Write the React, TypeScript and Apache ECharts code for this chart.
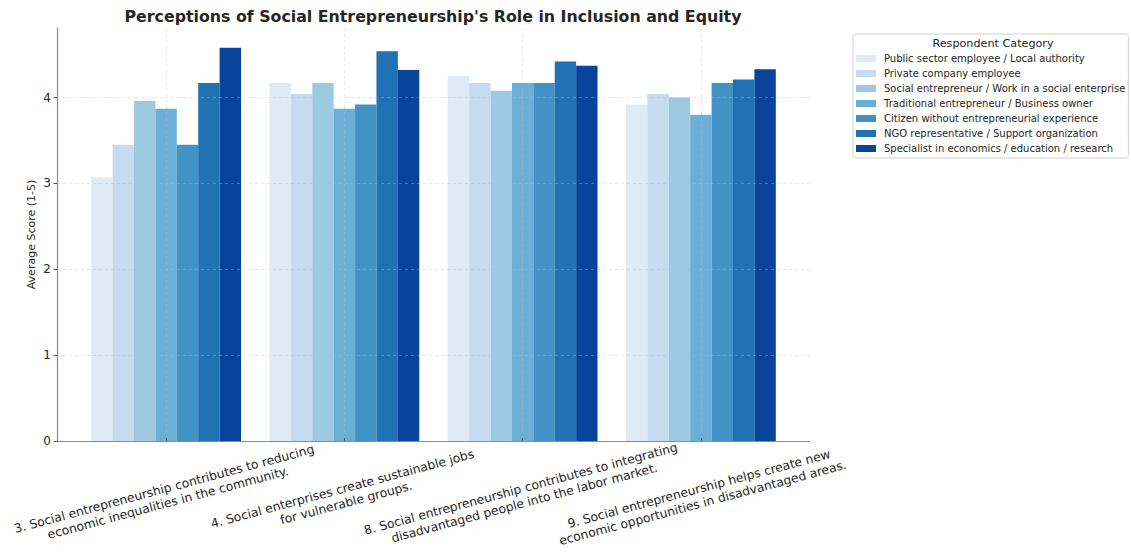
import React, { useEffect, useRef } from "react";
import * as echarts from "echarts";

const categories: string[] = [
  "3. Social entrepreneurship contributes to reducing\neconomic inequalities in the community.",
  "4. Social enterprises create sustainable jobs\nfor vulnerable groups.",
  "8. Social entrepreneurship contributes to integrating\ndisadvantaged people into the labor market.",
  "9. Social entrepreneurship helps create new\neconomic opportunities in disadvantaged areas.",
];

const respondentGroups: string[] = [
  "Public sector employee / Local authority",
  "Private company employee",
  "Social entrepreneur / Work in a social enterprise",
  "Traditional entrepreneur / Business owner",
  "Citizen without entrepreneurial experience",
  "NGO representative / Support organization",
  "Specialist in economics / education / research",
];

const publicSector: number[] = [3.07, 4.17, 4.25, 3.92];
const privateCompany: number[] = [3.45, 4.04, 4.17, 4.04];
const socialEntrepreneur: number[] = [3.96, 4.17, 4.08, 4.0];
const traditionalEntrepreneur: number[] = [3.87, 3.87, 4.17, 3.8];
const citizen: number[] = [3.45, 3.92, 4.17, 4.17];
const ngo: number[] = [4.17, 4.54, 4.42, 4.21];
const specialist: number[] = [4.58, 4.32, 4.37, 4.33];

const seriesValues: number[][] = [
  publicSector,
  privateCompany,
  socialEntrepreneur,
  traditionalEntrepreneur,
  citizen,
  ngo,
  specialist,
];

const yTicks: number[] = [0, 1, 2, 3, 4];
const categoryPositions: number[] = [0, 1, 2, 3];

const colors = ["#deebf7", "#c6dbef", "#9ecae1", "#6baed6", "#4292c6", "#2171b5", "#08459a"];

const FONT = "DejaVu Sans";
const GRID_COLOR = "rgba(185,185,185,0.45)";

export default function App() {
  const ref = useRef<HTMLDivElement>(null);
  useEffect(() => {
    if (!ref.current) return;
    const chart = echarts.init(ref.current, null, { renderer: "svg" });
    const series = respondentGroups.map((name, i) => ({
      name,
      type: "bar",
      z: 2,
      barWidth: 21.4,
      barGap: "0%",
      itemStyle: { color: colors[i] },
      data: categoryPositions.map((x, j) => [x, seriesValues[i][j]]),
    }));
    chart.setOption({
      animation: false,
      textStyle: { fontFamily: FONT },
      title: [
        {
          text: "Perceptions of Social Entrepreneurship's Role in Inclusion and Equity",
          left: 433,
          top: 8,
          padding: 0,
          textAlign: "center",
          textStyle: { fontFamily: FONT, fontSize: 15.8, fontWeight: "bold", color: "#262626" },
        },
        {
          text: "Respondent Category",
          left: 993,
          top: 38,
          padding: 0,
          textAlign: "center",
          textStyle: { fontFamily: FONT, fontSize: 11.2, fontWeight: "normal", color: "#262626" },
        },
      ],
      legend: {
        orient: "vertical",
        left: 853,
        top: 34,
        padding: [19, 3, 4, 3],
        itemWidth: 20,
        itemHeight: 7,
        itemGap: 4,
        icon: "rect",
        borderColor: "#d0d0d0",
        borderWidth: 1,
        borderRadius: 3,
        data: respondentGroups,
        textStyle: { fontFamily: FONT, fontSize: 10, color: "#262626", lineHeight: 11, padding: [0, 0, 0, 3] },
      },
      grid: {
        left: 57,
        right: 321,
        top: 28,
        bottom: 111,
        outerBoundsMode: "none",
        containLabel: false,
      },
      xAxis: {
        type: "value",
        z: 3,
        min: -0.612,
        max: 3.612,
        axisLine: { show: true, onZero: false, lineStyle: { color: "#8c8c8c", width: 1.2 } },
        axisTick: {
          show: true,
          inside: true,
          length: 3,
          customValues: categoryPositions,
          lineStyle: { color: "#555" },
        },
        splitLine: {
          show: true,
          lineStyle: { color: GRID_COLOR, type: [3, 3], width: 0.8 },
        },
        axisLabel: {
          customValues: categoryPositions,
          formatter: (v: number) => categories[Math.round(v)] ?? "",
          rotate: 15,
          align: "center",
          verticalAlign: "middle",
          margin: 55,
          fontFamily: FONT,
          fontSize: 12.3,
          lineHeight: 14.5,
          color: "#262626",
        },
      },
      yAxis: {
        type: "value",
        z: 3,
        min: 0,
        max: 4.81,
        interval: 1,
        name: "Average Score (1-5)",
        nameLocation: "middle",
        nameGap: 20,
        nameMoveOverlap: false,
        nameTextStyle: { fontFamily: FONT, fontSize: 11, color: "#262626" },
        axisLine: { show: true, onZero: false, lineStyle: { color: "#8c8c8c", width: 1.2 } },
        axisTick: { show: true, length: 3.5, customValues: yTicks, lineStyle: { color: "#555" } },
        splitLine: {
          show: true,
          lineStyle: { color: GRID_COLOR, type: [3, 3], width: 0.8 },
        },
        axisLabel: {
          customValues: yTicks,
          margin: 6,
          fontFamily: FONT,
          fontSize: 12,
          color: "#262626",
        },
      },
      series,
    });
    return () => chart.dispose();
  }, []);
  return <div ref={ref} style={{ width: 1131, height: 552, position: "absolute", left: 0, top: 0 }} />;
}
